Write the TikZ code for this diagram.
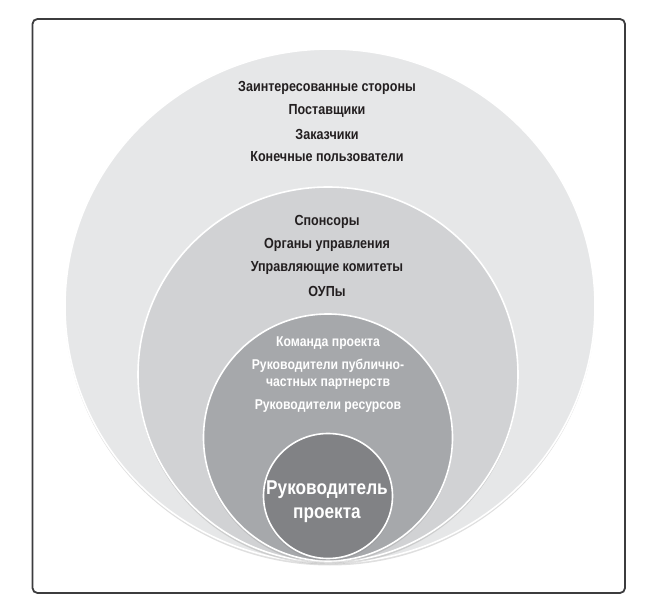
\documentclass[tikz,border=0pt]{standalone}
\usepackage{fontspec}
\setmainfont{Liberation Sans}[FakeStretch=0.86]
\usetikzlibrary{shapes.geometric,shadows}
\definecolor{frameC}{HTML}{3C3C3E}
\definecolor{fillA}{HTML}{E6E7E8}
\definecolor{fillB}{HTML}{D1D2D4}
\definecolor{fillC}{HTML}{A6A8AB}
\definecolor{fillD}{HTML}{818285}
\definecolor{txtD}{HTML}{231F20}
\tikzset{
  ring/.style={ellipse, inner sep=0pt, draw=white, line width=1.6pt,
    drop shadow={opacity=0.25, shadow xshift=0pt, shadow yshift=-2.5pt}},
  darktxt/.style={font=\bfseries\fontsize{14.6}{16}\selectfont, text=txtD, inner sep=0pt},
  lighttxt/.style={font=\bfseries\fontsize{14.2}{16}\selectfont, text=white, inner sep=0pt},
  coretxt/.style={font=\bfseries\fontsize{20}{24}\selectfont, text=white, align=center, inner sep=0pt},
  lightpair/.style={font=\bfseries\fontsize{14.2}{17}\selectfont, text=white, align=center, inner sep=0pt}
}
\begin{document}
\begin{tikzpicture}[x=1pt,y=-1pt]
\useasboundingbox (0,0) rectangle (659,609);
\draw[frameC, line width=1.8pt, rounded corners=5pt] (32.5,19) rectangle (625,593);
\node[ring, fill=fillA, minimum width=530pt, minimum height=514pt] (c1) at (330,306) {};
\node[ring, fill=fillB, minimum width=380pt, minimum height=375pt] (c2) at (328,374.5) {};
\node[ring, fill=fillC, minimum width=249pt, minimum height=247pt] (c3) at (328,437.5) {};
\node[ring, fill=fillD, minimum width=129pt, minimum height=125pt] (c4) at (328,496) {};
\node[darktxt] (a1) at (327,88) {Заинтересованные стороны};
\node[darktxt] (a2) at (327,111) {Поставщики};
\node[darktxt] (a3) at (327,134) {Заказчики};
\node[darktxt] (a4) at (327,157) {Конечные пользователи};
\node[darktxt] (b1) at (327,222) {Спонсоры};
\node[darktxt] (b2) at (327,245) {Органы управления};
\node[darktxt] (b3) at (327,268) {Управляющие комитеты};
\node[darktxt] (b4) at (327,291) {ОУПы};
\node[lighttxt] (d1) at (328,343) {Команда проекта};
\node[lightpair] (d2) at (328,374.5) {Руководители публично-\\частных партнерств};
\node[lighttxt] (d3) at (328,406) {Руководители ресурсов};
\node[coretxt] (e1) at (327,502) {Руководитель\\проекта};
\end{tikzpicture}
\end{document}
